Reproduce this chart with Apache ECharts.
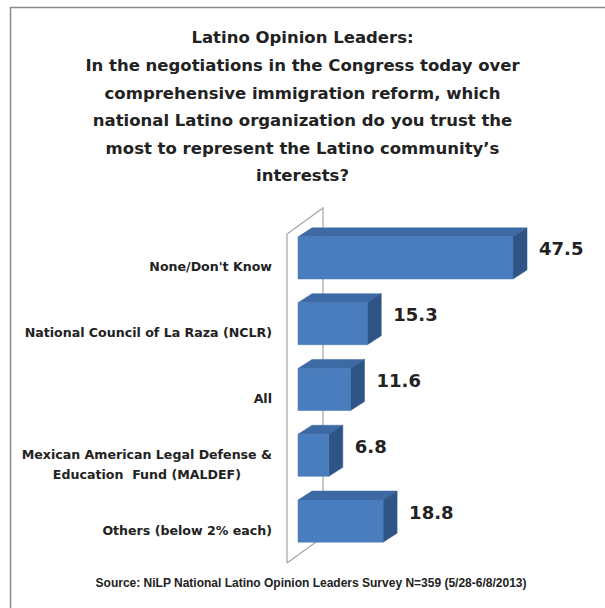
<!DOCTYPE html>
<html>
<head>
<meta charset="utf-8">
<script src="https://cdn.jsdelivr.net/npm/echarts@6/dist/echarts.min.js"></script>
<style>
  html, body { margin: 0; padding: 0; background: #fff; }
  #chart { width: 605px; height: 608px; }
</style>
</head>
<body>
<div id="chart"></div>
<script>
const titleText = 'Latino Opinion Leaders:\nIn the negotiations in the Congress today over\ncomprehensive immigration reform, which\nnational Latino organization do you trust the\nmost to represent the Latino community\u2019s\ninterests?';
const sourceText = 'Source: NiLP National Latino Opinion Leaders Survey N=359 (5/28-6/8/2013)';
const categories = [
  "None/Don't Know",
  'National Council of La Raza (NCLR)',
  'All',
  'Mexican American Legal Defense &\nEducation  Fund (MALDEF)',
  'Others (below 2% each)'
];
const values = [47.5, 15.3, 11.6, 6.8, 18.8];

const FONT = 'DejaVu Sans';
const TEXT_COLOR = '#222';
const FRONT = '#4A7DBD', TOPC = '#3D6AA5', SIDE = '#2F5587';

const chart = echarts.init(document.getElementById('chart'), null, { renderer: 'svg' });

function renderWall(params, api) {
  const cs = params.coordSys;
  const dx = 36, dy = -26;
  const x = cs.x, y = cs.y, b = cs.y + cs.height;
  return {
    type: 'polyline',
    shape: { points: [[x, b], [x, y], [x + dx, y + dy], [x + dx, b + dy], [x, b]] },
    style: { stroke: '#A5A5A5', lineWidth: 1.2, fill: null },
    silent: true
  };
}

function renderBar(params, api) {
  const v = api.value(0), ci = api.value(1);
  const p0 = api.coord([0, ci]);
  const p1 = api.coord([v, ci]);
  const band = api.size([0, 1])[1];
  const offX = 11, offY = -9;      // bar plane offset from front wall
  const dx = 14, dy = -9;          // bar depth
  const h = band * 0.64;
  const x0 = p0[0] + offX, x1 = p1[0] + offX;
  const cy = p0[1] + offY;
  const top = cy - h / 2, bot = cy + h / 2;
  return {
    type: 'group',
    children: [
      { type: 'polygon', shape: { points: [[x0, top], [x1, top], [x1 + dx, top + dy], [x0 + dx, top + dy]] },
        style: { fill: TOPC, stroke: TOPC, lineWidth: 0.5 } },
      { type: 'polygon', shape: { points: [[x1, top], [x1 + dx, top + dy], [x1 + dx, bot + dy], [x1, bot]] },
        style: { fill: SIDE, stroke: SIDE, lineWidth: 0.5 } },
      { type: 'rect', shape: { x: x0, y: top, width: x1 - x0, height: h },
        style: { fill: FRONT, stroke: '#4577B5', lineWidth: 0.5 } },
      { type: 'text', x: x1 + dx + 12, y: cy + dy,
        style: { text: v.toFixed(1), fill: TEXT_COLOR, fontFamily: FONT, fontWeight: 'bold', fontSize: 18,
                 align: 'left', verticalAlign: 'middle' } }
    ]
  };
}

chart.setOption({
  backgroundColor: '#fff',
  animation: false,
  title: [
    {
      text: titleText,
      left: 'center',
      top: 24,
      padding: 0,
      textStyle: { fontFamily: FONT, fontWeight: 'bold', fontSize: 16.5, lineHeight: 27.6, color: TEXT_COLOR }
    },
    {
      text: sourceText,
      left: 311,
      top: 575,
      padding: 0,
      textAlign: 'center',
      textStyle: { fontFamily: '"Liberation Sans", Arial, sans-serif', fontWeight: 'bold', fontSize: 12, lineHeight: 16, color: TEXT_COLOR }
    }
  ],
  graphic: [
    { type: 'rect', left: 8, top: 5, shape: { x: 0, y: 0, width: 620, height: 620 },
      style: { fill: null, stroke: '#8A8A8A', lineWidth: 1.5 }, silent: true, z: -10 }
  ],
  grid: { left: 287, top: 234, width: 271.6, height: 329 },
  xAxis: { type: 'value', min: 0, max: 60, show: false },
  yAxis: {
    type: 'category',
    inverse: true,
    data: categories,
    axisLine: { show: false },
    axisTick: { show: false },
    splitLine: { show: false },
    axisLabel: {
      margin: 15,
      formatter: function (val) { return '{c|' + val + '}'; },
      rich: { c: { align: 'center', fontFamily: FONT, fontWeight: 'bold', fontSize: 12.6, lineHeight: 20, color: TEXT_COLOR } }
    }
  },
  series: [
    { type: 'custom', renderItem: renderWall, data: [[0, 0]], z: 1, silent: true },
    { type: 'custom', renderItem: renderBar, data: values.map((v, i) => [v, i]), z: 2,
      encode: { x: 0, y: 1 } }
  ]
});
</script>
</body>
</html>
